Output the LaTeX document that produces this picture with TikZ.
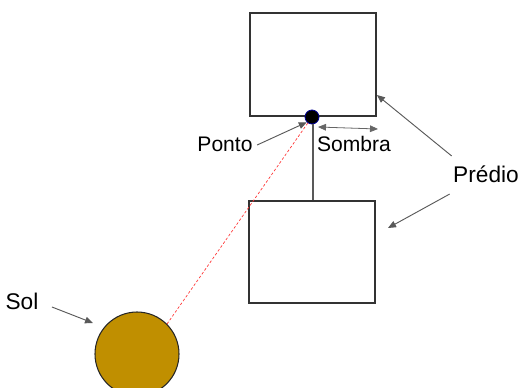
\documentclass[tikz,border=0pt]{standalone}
\usepackage{fontspec}
\setmainfont{Liberation Sans}
\usetikzlibrary{arrows.meta}
\definecolor{sungold}{RGB}{192,143,0}

\begin{document}
\begin{tikzpicture}[x=0.75pt,y=-0.75pt,>={Triangle[length=6pt,width=5pt]}]
\tikzset{
  building/.style={draw=black!80,line width=1.4pt,fill=white,inner sep=0pt},
  pointer/.style={->,draw=black!65,line width=0.7pt},
  lbl/.style={font=\fontsize{15.8}{18}\selectfont,inner sep=1pt},
  biglbl/.style={font=\fontsize{17}{20}\selectfont,inner sep=1pt}
}
\useasboundingbox (0,0) rectangle (522,387);
\clip (0,0) rectangle (522,387);

% Buildings
\node[building,minimum width=94.5pt,minimum height=77.25pt] (top) at (313,64.5) {};
\node[building,minimum width=94.5pt,minimum height=76.5pt] (bottom) at (312,252) {};

% Shadow point and sun
\node[circle,fill=black,draw=blue!60!black,line width=0.6pt,minimum size=10.5pt,inner sep=0pt] (dot) at (312,117) {};
\node[circle,fill=sungold,draw=black!85,line width=0.8pt,minimum size=63pt,inner sep=0pt] (sun) at (137,354) {};

% Light ray and pole
\draw[red!80,dashed,dash pattern=on 2pt off 1.5pt,line width=0.5pt] (dot) -- (sun.north east);
\draw[black!65,line width=0.8pt] (dot.south) ++(1,0) coordinate (pole) -- (pole |- bottom.north);

% Labels
\node[lbl] (ponto) at (225,144) {Ponto};
\node[lbl] (sombra) at (354,144) {Sombra};
\node[biglbl] (predio) at (486,174) {Prédio};
\node[biglbl] (sol) at (22,301) {Sol};

% Pointers
\coordinate (sA) at (318,127);
\coordinate (sB) at (378,129);
\draw[black!60,line width=0.6pt,<->] (sA) -- (sB);
\draw[pointer] (ponto.east) ++(3,1) -- (dot.south west);
\draw[pointer] (predio.north west) ++(0,-8) -- (top.east |- 0,95);
\draw[pointer] (predio.south west) ++(-2,10) -- (388,228);
\draw[pointer] (sol.east) ++(12,6) -- (93,323);
\end{tikzpicture}
\end{document}
